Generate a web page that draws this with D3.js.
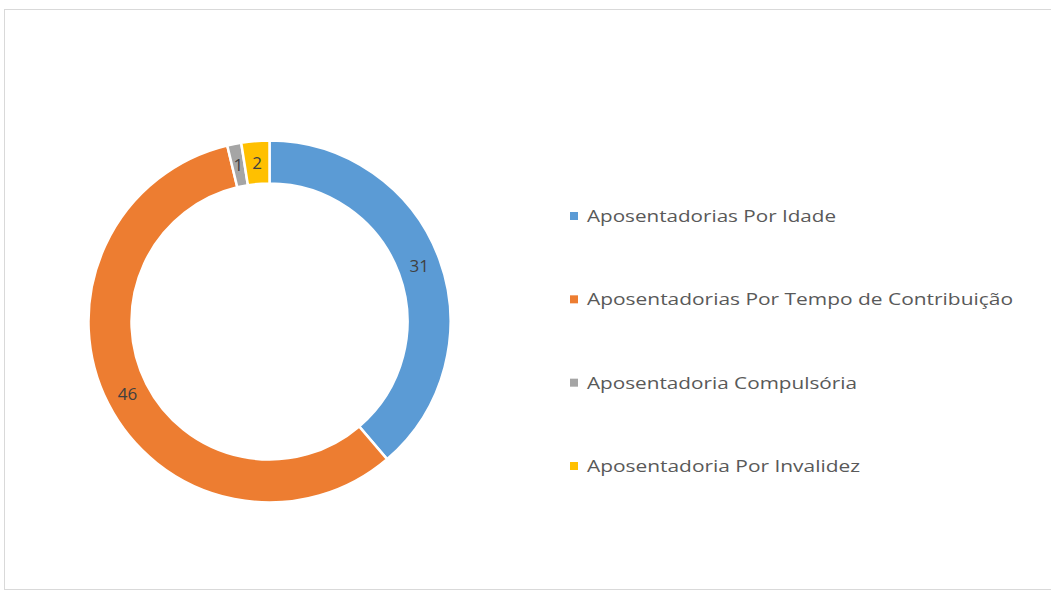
<!DOCTYPE html>
<html><head><meta charset="utf-8">
<script src="https://cdn.jsdelivr.net/npm/d3@7"></script>
<style>body{margin:0;background:#fff}svg{display:block}</style>
</head><body>
<svg id="c" width="1051" height="596"></svg>
<script>
const categories = ["Aposentadorias Por Idade","Aposentadorias Por Tempo de Contribuição","Aposentadoria Compulsória","Aposentadoria Por Invalidez"];
const values = [31, 46, 1, 2];
const colors = ["#5B9BD5","#ED7D31","#A5A5A5","#FFC000"];
const legendWidths = [249, 426, 270, 273];

const svg = d3.select("#c");
svg.append("rect").attr("x",4.5).attr("y",9.5).attr("width",1050).attr("height",580)
  .attr("fill","#fff").attr("stroke","#d9d9d9").attr("stroke-width",1);

const cx = 269.5, cy = 321.5, R = 181, r = 138;
const data = categories.map((c,i)=>({c, v:values[i], col:colors[i]}));
const pie = d3.pie().value(d=>d.v).sort(null);
const arc = d3.arc().innerRadius(r).outerRadius(R);
const labelArc = d3.arc().innerRadius((R+r)/2).outerRadius((R+r)/2);
const g = svg.append("g").attr("transform",`translate(${cx},${cy})`);
const arcs = pie(data);
g.selectAll("path").data(arcs).join("path")
  .attr("d",arc).attr("fill",d=>d.data.col).attr("stroke","#fff").attr("stroke-width",2.5);
g.selectAll("text").data(arcs).join("text")
  .attr("transform",d=>`translate(${labelArc.centroid(d)})`)
  .attr("text-anchor","middle").attr("dy","0.36em")
  .attr("font-family","Open Sans, sans-serif").attr("font-size",17).attr("fill","#404040")
  .text(d=>d.data.v);

const ly = d3.scalePoint().domain(categories).range([216, 466]);
const lg = svg.append("g");
categories.forEach((c,i)=>{
  const y = ly(c);
  lg.append("rect").attr("x",570).attr("y",y-4).attr("width",8).attr("height",8).attr("fill",colors[i]);
  lg.append("text").attr("x",587).attr("y",y).attr("dy","0.36em")
    .attr("font-family","Open Sans, sans-serif").attr("font-size",17).attr("fill","#595959")
    .attr("textLength",legendWidths[i]).attr("lengthAdjust","spacingAndGlyphs")
    .text(c);
});
</script>
</body></html>
